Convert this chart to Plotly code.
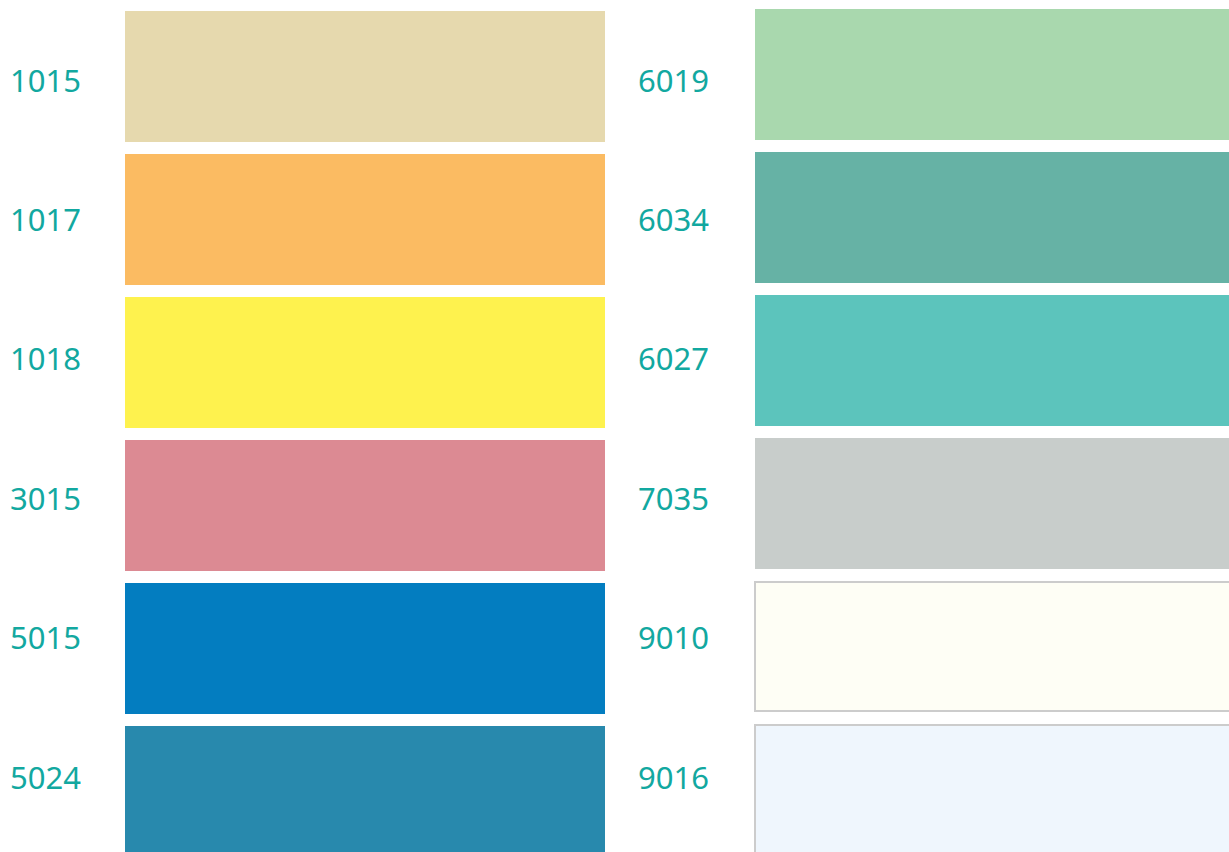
import plotly.graph_objects as go

# colour swatches, two columns
left_codes = ["1015", "1017", "1018", "3015", "5015", "5024"]
left_colors = ["#e6d9ae", "#fbbb62", "#fef24e", "#dc8a93", "#037dc0", "#2889ad"]
right_codes = ["6019", "6034", "6027", "7035", "9010", "9016"]
right_colors = ["#a9d8ae", "#66b2a5", "#5cc4bc", "#c8cdcb", "#fefef5", "#eff6fd"]
right_outlined = [False, False, False, False, True, True]
label_y = [80, 219, 358, 498, 637, 777]

W, H = 1229, 852
step = 143
swatch_h = 131
left_y = [76.5 + i * step for i in range(len(left_codes))]
right_y = [74.5 + i * step for i in range(len(right_codes))]
text_col = "#12a8a0"
font = dict(family="Noto Sans, Open Sans, sans-serif", size=31, color=text_col)

fig = go.Figure()

fig.add_trace(go.Bar(
    orientation="h", y=left_y, x=[480] * len(left_codes), base=125,
    width=swatch_h, marker=dict(color=left_colors, line=dict(width=0)),
    hoverinfo="text", hovertext=left_codes,
))
fig.add_trace(go.Bar(
    orientation="h", y=right_y, x=[500] * len(right_codes), base=755,
    width=[swatch_h - 2 if o else swatch_h for o in right_outlined],
    marker=dict(
        color=right_colors,
        line=dict(color=["#cccccc" if o else "rgba(0,0,0,0)" for o in right_outlined], width=2),
    ),
    hoverinfo="text", hovertext=right_codes,
))

fig.add_trace(go.Scatter(
    x=[10] * len(left_codes), y=[v + 4.5 for v in label_y], text=left_codes,
    mode="text", textposition="middle right", textfont=font, hoverinfo="skip",
))
fig.add_trace(go.Scatter(
    x=[638] * len(right_codes), y=[v + 4.5 for v in label_y], text=right_codes,
    mode="text", textposition="middle right", textfont=font, hoverinfo="skip",
))

fig.update_layout(
    width=W, height=H, margin=dict(l=0, r=0, t=0, b=0),
    paper_bgcolor="white", plot_bgcolor="white", showlegend=False,
    barmode="overlay",
    xaxis=dict(range=[0, W], visible=False, fixedrange=True),
    yaxis=dict(range=[H, 0], visible=False, fixedrange=True),
)

# drop the default page margin so the chart sits flush in the window
fig.write_html(
    "out.html",
    config={"displayModeBar": False},
    post_script="document.body.style.margin='0';document.body.style.overflow='hidden';",
)
